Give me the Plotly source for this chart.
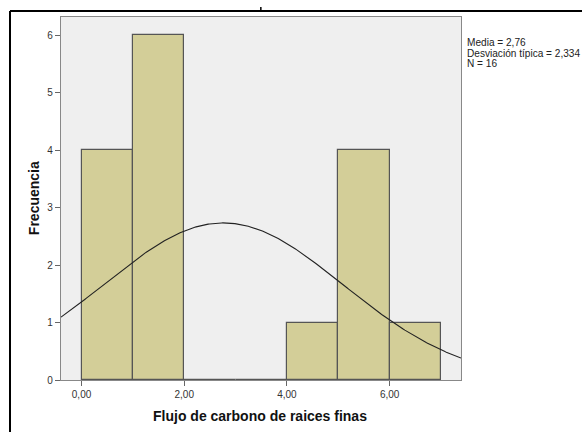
import numpy as np
import plotly.graph_objects as go

# Histogram bins (left edges, width 1) and frequencies
bin_left = [0, 1, 2, 3, 4, 5, 6]
counts = [4, 6, 0, 0, 1, 4, 1]
bin_width = 1.0

# Summary statistics for the fitted normal curve
mean = 2.76
std = 2.334
n = 16

x_ticks = [0, 2, 4, 6]
x_tick_text = ["0,00", "2,00", "4,00", "6,00"]
y_ticks = [0, 1, 2, 3, 4, 5, 6]

x_range = [-0.40, 7.39]
y_range = [0, 6.32]

centers = [b + bin_width / 2 for b in bin_left]

fig = go.Figure()
fig.add_trace(go.Bar(
    x=centers, y=counts, width=bin_width,
    marker=dict(color="#D3CE98", line=dict(color="#555555", width=1.2)),
    hoverinfo="skip",
))

xs = np.linspace(x_range[0], x_range[1], 300)
ys = n * bin_width / (std * np.sqrt(2 * np.pi)) * np.exp(-0.5 * ((xs - mean) / std) ** 2)
fig.add_trace(go.Scatter(
    x=xs, y=ys, mode="lines",
    line=dict(color="#222222", width=1.1),
    hoverinfo="skip",
))

stats_lines = [
    f"Media = {mean:.2f}".replace(".", ","),
    f"Desviación típica = {std:.3f}".replace(".", ","),
    f"N = {n}",
]
stats_y = [0.9298, 0.9008, 0.8718]

annotations = [
    dict(x=1.013, y=yy, xref="paper", yref="paper",
         xanchor="left", yanchor="middle", align="left", showarrow=False,
         borderpad=0, text=t, font=dict(size=10.1, color="#222222"))
    for t, yy in zip(stats_lines, stats_y)
]
annotations += [
    dict(x=0.4975, y=-0.099, xref="paper", yref="paper",
         xanchor="center", yanchor="middle", showarrow=False,
         text="<b>Flujo de carbono de raices finas</b>",
         font=dict(size=14, color="#111111")),
    dict(x=-0.0675, y=0.501, xref="paper", yref="paper",
         xanchor="center", yanchor="middle", showarrow=False, textangle=-90,
         text="<b>Frecuencia</b>",
         font=dict(size=14, color="#111111")),
]

fig.update_layout(
    width=582, height=432,
    margin=dict(l=61, r=121, t=17, b=52),
    paper_bgcolor="white",
    plot_bgcolor="#EFEFEF",
    showlegend=False,
    bargap=0,
    font=dict(family="Liberation Sans, Arial, sans-serif", size=10, color="#222222"),
    xaxis=dict(
        range=x_range, tickvals=x_ticks, ticktext=x_tick_text,
        showgrid=False, zeroline=False,
        ticks="outside", ticklen=5, tickcolor="#666666", tickwidth=1,
        showline=True, linecolor="#888888", linewidth=1.2, mirror=True,
        tickfont=dict(size=10, color="#333333"),
    ),
    yaxis=dict(
        range=y_range, tickvals=y_ticks,
        showgrid=False, zeroline=False,
        ticks="outside", ticklen=5, tickcolor="#666666", tickwidth=1,
        showline=True, linecolor="#888888", linewidth=1.2, mirror=True,
        tickfont=dict(size=10, color="#333333"),
    ),
    annotations=annotations,
    shapes=[
        # outer chart frame
        dict(type="line", xref="paper", yref="paper",
             x0=-0.1275, x1=1.5, y0=1.0165, y1=1.0165,
             line=dict(color="black", width=2)),
        dict(type="line", xref="paper", yref="paper",
             x0=-0.1275, x1=-0.1275, y0=1.0165, y1=-0.3,
             line=dict(color="black", width=2)),
        dict(type="line", xref="paper", yref="paper",
             x0=0.4996, x1=0.4996, y0=1.0165, y1=1.0275,
             line=dict(color="black", width=1.5)),
    ],
)

fig.write_html("out.html")
